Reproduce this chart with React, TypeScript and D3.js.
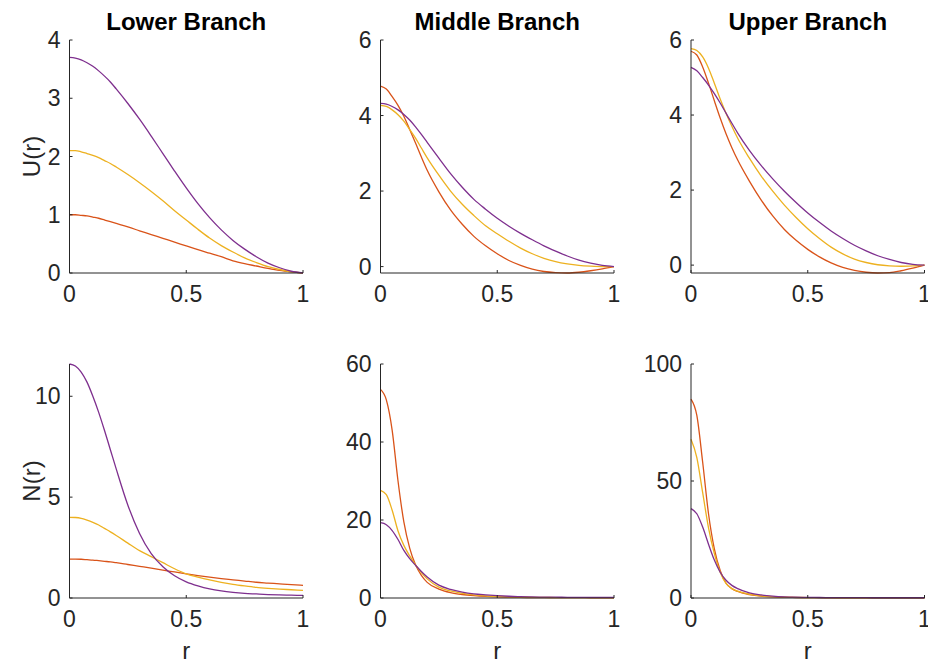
import React, { useEffect, useRef } from 'react';
import * as d3 from 'd3';

// radial grid the profiles were read at
const rGrid = [0, 0.025, 0.05, 0.075, 0.1, 0.125, 0.15, 0.175, 0.2, 0.25, 0.3, 0.35, 0.4, 0.45, 0.5, 0.55, 0.6, 0.65, 0.7, 0.75, 0.8, 0.85, 0.9, 0.95, 1];

const branchTitles = ['Lower Branch', 'Middle Branch', 'Upper Branch'];
const rowLabels = ['U(r)', 'N(r)'];
const xTicks = [0, 0.5, 1];

// U(r)
const uLowerRed = [1.0, 1.0, 0.99, 0.98, 0.96, 0.94, 0.91, 0.88, 0.85, 0.79, 0.725, 0.66, 0.595, 0.53, 0.465, 0.4, 0.34, 0.28, 0.21, 0.16, 0.12, 0.08, 0.045, 0.02, 0];
const uLowerYellow = [2.1, 2.1, 2.08, 2.05, 2.02, 1.98, 1.93, 1.88, 1.82, 1.69, 1.55, 1.4, 1.24, 1.07, 0.91, 0.75, 0.6, 0.47, 0.36, 0.26, 0.18, 0.11, 0.06, 0.02, 0];
const uLowerPurple = [3.7, 3.69, 3.66, 3.61, 3.55, 3.47, 3.38, 3.28, 3.16, 2.91, 2.64, 2.35, 2.05, 1.75, 1.46, 1.19, 0.95, 0.74, 0.56, 0.41, 0.28, 0.17, 0.09, 0.03, 0];

const uMiddleRed = [4.78, 4.7, 4.5, 4.27, 3.98, 3.63, 3.27, 2.9, 2.55, 1.98, 1.5, 1.12, 0.8, 0.55, 0.34, 0.16, 0.03, -0.07, -0.13, -0.16, -0.17, -0.15, -0.11, -0.06, 0];
const uMiddleYellow = [4.27, 4.24, 4.15, 4.02, 3.85, 3.63, 3.4, 3.14, 2.88, 2.42, 2.0, 1.65, 1.35, 1.08, 0.87, 0.67, 0.49, 0.34, 0.22, 0.13, 0.07, 0.03, 0.01, 0, 0];
const uMiddlePurple = [4.32, 4.3, 4.24, 4.15, 4.03, 3.88, 3.7, 3.5, 3.29, 2.87, 2.46, 2.1, 1.78, 1.52, 1.28, 1.07, 0.88, 0.71, 0.55, 0.41, 0.28, 0.17, 0.09, 0.03, 0];

const uUpperRed = [5.7, 5.6, 5.28, 4.85, 4.38, 3.92, 3.5, 3.13, 2.8, 2.24, 1.74, 1.31, 0.95, 0.66, 0.42, 0.22, 0.06, -0.06, -0.14, -0.19, -0.21, -0.2, -0.15, -0.08, 0];
const uUpperYellow = [5.77, 5.72, 5.55, 5.25, 4.85, 4.43, 4.05, 3.7, 3.38, 2.85, 2.38, 1.97, 1.6, 1.27, 0.97, 0.71, 0.48, 0.3, 0.16, 0.07, 0.01, -0.02, -0.03, -0.02, 0];
const uUpperPurple = [5.27, 5.18, 5.0, 4.8, 4.57, 4.32, 4.05, 3.78, 3.52, 3.06, 2.66, 2.3, 1.97, 1.67, 1.39, 1.14, 0.91, 0.71, 0.53, 0.38, 0.25, 0.15, 0.07, 0.02, 0];

// N(r)
const nLowerRed = [1.93, 1.93, 1.92, 1.9, 1.88, 1.85, 1.82, 1.79, 1.75, 1.66, 1.57, 1.48, 1.38, 1.29, 1.2, 1.11, 1.03, 0.96, 0.9, 0.84, 0.78, 0.74, 0.7, 0.66, 0.63];
const nLowerYellow = [4.0, 3.99, 3.95, 3.86, 3.75, 3.62, 3.45, 3.28, 3.1, 2.72, 2.35, 2.05, 1.75, 1.45, 1.2, 1.04, 0.9, 0.78, 0.68, 0.6, 0.53, 0.48, 0.44, 0.41, 0.38];
const nLowerPurple = [11.6, 11.5, 11.2, 10.7, 10.0, 9.2, 8.3, 7.35, 6.4, 4.6, 3.2, 2.2, 1.55, 1.1, 0.8, 0.6, 0.45, 0.35, 0.28, 0.23, 0.2, 0.17, 0.15, 0.14, 0.13];

const nMiddleRed = [53.5, 50.8, 43.0, 30.0, 19.5, 12.8, 8.5, 5.8, 4.0, 2.3, 1.4, 0.9, 0.6, 0.4, 0.28, 0.2, 0.15, 0.12, 0.1, 0.09, 0.08, 0.08, 0.07, 0.07, 0.07];
const nMiddleYellow = [27.6, 26.5, 22.5, 17.2, 13.5, 10.8, 8.5, 6.5, 4.9, 2.8, 1.8, 1.2, 0.8, 0.55, 0.4, 0.3, 0.22, 0.17, 0.14, 0.12, 0.11, 0.1, 0.1, 0.09, 0.09];
const nMiddlePurple = [19.3, 18.8, 17.3, 15.0, 12.2, 10.1, 8.4, 6.8, 5.4, 3.3, 2.2, 1.5, 1.05, 0.8, 0.6, 0.45, 0.35, 0.28, 0.23, 0.2, 0.18, 0.16, 0.15, 0.15, 0.14];

const nUpperRed = [85, 78, 58, 36, 21, 11.8, 6.3, 4.0, 2.8, 1.5, 0.8, 0.45, 0.3, 0.2, 0.15, 0.12, 0.1, 0.09, 0.08, 0.08, 0.07, 0.07, 0.07, 0.07, 0.07];
const nUpperYellow = [67.8, 60, 45, 30, 19, 11, 6.2, 4.0, 2.9, 1.6, 0.9, 0.55, 0.35, 0.25, 0.18, 0.14, 0.12, 0.1, 0.09, 0.09, 0.08, 0.08, 0.08, 0.08, 0.08];
const nUpperPurple = [38.2, 36, 30.3, 23, 16.2, 11.0, 7.6, 5.4, 4.0, 2.2, 1.3, 0.8, 0.5, 0.35, 0.27, 0.21, 0.17, 0.15, 0.13, 0.12, 0.11, 0.11, 0.1, 0.1, 0.1];

const lineColors = ['#D95319', '#EDB120', '#7E2F8E'];

interface Panel {
  row: number;
  col: number;
  series: number[][];
  yTicks: number[];
  yMax: number | null; // null -> tight to data
  yMin: number | null;
}

const panels: Panel[] = [
  { row: 0, col: 0, series: [uLowerRed, uLowerYellow, uLowerPurple], yTicks: [0, 1, 2, 3, 4], yMin: 0, yMax: 4 },
  { row: 0, col: 1, series: [uMiddleRed, uMiddleYellow, uMiddlePurple], yTicks: [0, 2, 4, 6], yMin: null, yMax: 6 },
  { row: 0, col: 2, series: [uUpperRed, uUpperYellow, uUpperPurple], yTicks: [0, 2, 4, 6], yMin: null, yMax: 6 },
  { row: 1, col: 0, series: [nLowerRed, nLowerYellow, nLowerPurple], yTicks: [0, 5, 10], yMin: 0, yMax: null },
  { row: 1, col: 1, series: [nMiddleRed, nMiddleYellow, nMiddlePurple], yTicks: [0, 20, 40, 60], yMin: 0, yMax: 60 },
  { row: 1, col: 2, series: [nUpperRed, nUpperYellow, nUpperPurple], yTicks: [0, 50, 100], yMin: 0, yMax: 100 },
];

const App: React.FC = () => {
  const ref = useRef<SVGSVGElement | null>(null);

  useEffect(() => {
    if (!ref.current) return;
    const svg = d3.select(ref.current);
    svg.selectAll('*').remove();

    const W = 928;
    const H = 660;
    svg.attr('width', W).attr('height', H);

    const colLeft = [69.5, 380.5, 691];
    const plotW = 233.5;
    const rowTop = [40, 364];
    const rowBottom = [273, 598];
    const axisColor = '#262626';
    const font = 'Liberation Sans, Arial, Helvetica, sans-serif';

    panels.forEach(p => {
      const x0 = colLeft[p.col];
      const top = rowTop[p.row];
      const bottom = rowBottom[p.row];

      const allVals = p.series.flat();
      const yMin = p.yMin !== null ? p.yMin : (d3.min(allVals) as number);
      const yMax = p.yMax !== null ? p.yMax : (d3.max(allVals) as number);

      const x = d3.scaleLinear().domain([0, 1]).range([x0, x0 + plotW]);
      const y = d3.scaleLinear().domain([yMin, yMax]).range([bottom, top]);

      const g = svg.append('g');

      const line = d3
        .line<number>()
        .x((_, i) => x(rGrid[i]))
        .y(d => y(d))
        .curve(d3.curveMonotoneX);

      p.series.forEach((s, i) => {
        g.append('path')
          .datum(s)
          .attr('fill', 'none')
          .attr('stroke', lineColors[i])
          .attr('stroke-width', 1.3)
          .attr('d', line);
      });

      // axes (box off, ticks inward)
      g.append('line')
        .attr('x1', x0).attr('x2', x0)
        .attr('y1', top).attr('y2', bottom)
        .attr('stroke', axisColor).attr('stroke-width', 1);
      g.append('line')
        .attr('x1', x0).attr('x2', x0 + plotW)
        .attr('y1', bottom).attr('y2', bottom)
        .attr('stroke', axisColor).attr('stroke-width', 1);

      xTicks.forEach(t => {
        g.append('line')
          .attr('x1', x(t)).attr('x2', x(t))
          .attr('y1', bottom).attr('y2', bottom - 3)
          .attr('stroke', axisColor);
        g.append('text')
          .attr('x', x(t))
          .attr('y', bottom + 29)
          .attr('text-anchor', 'middle')
          .style('font-family', font)
          .style('font-size', '23px')
          .style('fill', axisColor)
          .text(String(t));
      });

      p.yTicks.forEach(t => {
        g.append('line')
          .attr('x1', x0).attr('x2', x0 + 3)
          .attr('y1', y(t)).attr('y2', y(t))
          .attr('stroke', axisColor);
        g.append('text')
          .attr('x', x0 - 9)
          .attr('y', y(t) + 8)
          .attr('text-anchor', 'end')
          .style('font-family', font)
          .style('font-size', '23px')
          .style('fill', axisColor)
          .text(String(t));
      });

      if (p.row === 0) {
        g.append('text')
          .attr('x', x0 + plotW / 2)
          .attr('y', 30)
          .attr('text-anchor', 'middle')
          .style('font-family', font)
          .style('font-size', '24px')
          .style('font-weight', 'bold')
          .style('fill', '#000')
          .text(branchTitles[p.col]);
      } else {
        g.append('text')
          .attr('x', x0 + plotW / 2)
          .attr('y', 659)
          .attr('text-anchor', 'middle')
          .style('font-family', font)
          .style('font-size', '24px')
          .style('fill', axisColor)
          .text('r');
      }

      if (p.col === 0) {
        const cy = (top + bottom) / 2;
        g.append('text')
          .attr('transform', `translate(40, ${cy}) rotate(-90)`)
          .attr('text-anchor', 'middle')
          .style('font-family', font)
          .style('font-size', '24px')
          .style('fill', axisColor)
          .text(rowLabels[p.row]);
      }
    });
  }, []);

  return (
    <div>
      <svg ref={ref} style={{ position: 'absolute', left: 0, top: 0, background: '#fff' }} />
    </div>
  );
};

export default App;
